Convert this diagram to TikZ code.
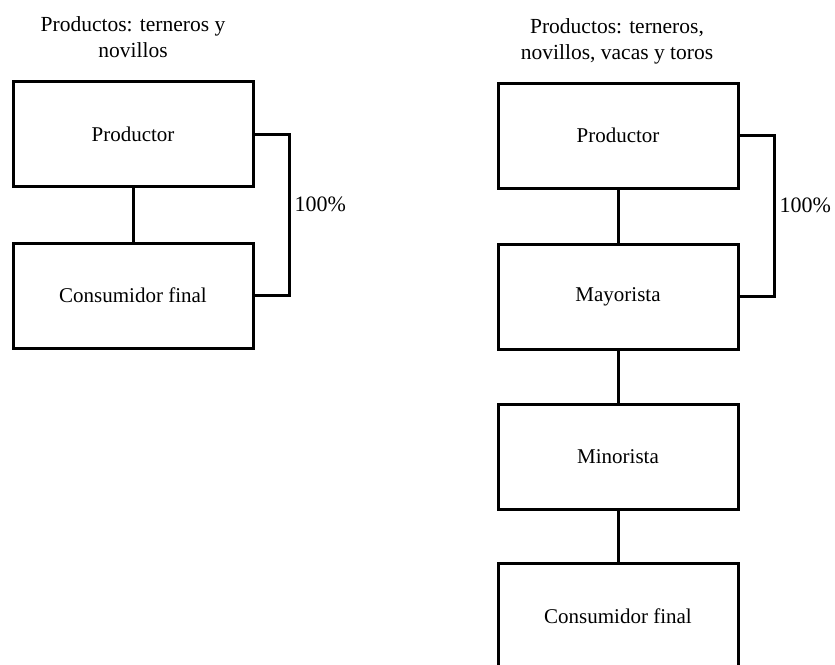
\documentclass[tikz,border=0pt]{standalone}
\usepackage{fontspec}
\setmainfont{Liberation Serif}
\usepackage{tikz}

\begin{document}
\begin{tikzpicture}[x=1pt, y=-1pt,
        box/.style={draw, line width=3pt, minimum width=240pt, minimum height=105pt, font=\fontsize{21}{25}\selectfont},
        link/.style={line width=3pt},
        title/.style={align=center, font=\fontsize{21.5}{26}\selectfont}]
        \useasboundingbox (0,0) rectangle (835,664);
        \clip (0,0) rectangle (835,664);

        % Left chain
        \node[title] (titA) at (133,37) {Productos: terneros y\\novillos};
        \node[box] (prodA) at (133,134) {Productor};
        \node[box] (consA) at (133,295.5) {Consumidor final};
        \draw[link] (prodA) -- (consA);
        \draw[link] (prodA.east) -- ++(35,0) |- (consA.east);
        \node[anchor=west, font=\fontsize{22}{26}\selectfont] (pctA) at (291,204) {100\%};

        % Right chain
        \node[title] (titB) at (617,41) {Productos: terneros,\\novillos, vacas y toros};
        \node[box] (prodB) at (618,135.5) {Productor};
        \node[box] (mayB) at (618,296.5) {Mayorista};
        \node[box] (minB) at (618,456.5) {Minorista};
        \node[box] (consB) at (618,616) {Consumidor final};
        \draw[link] (prodB) -- (mayB);
        \draw[link] (mayB) -- (minB);
        \draw[link] (minB) -- (consB);
        \draw[link] (prodB.east) -- ++(35,0) |- (mayB.east);
        \node[anchor=west, font=\fontsize{22}{26}\selectfont] (pctB) at (776,205) {100\%};
\end{tikzpicture}
\end{document}
